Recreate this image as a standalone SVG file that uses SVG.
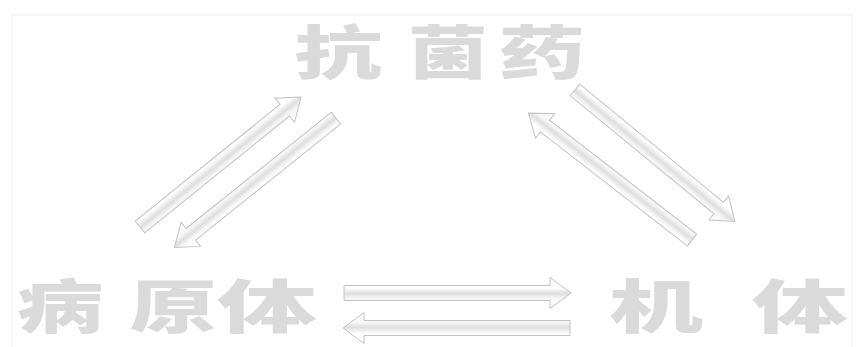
<svg xmlns="http://www.w3.org/2000/svg" width="856" height="347" viewBox="0 0 856 347">
<style>
.lbl{font-family:"Noto Sans CJK SC","Noto Sans CJK TC",sans-serif;font-weight:900;font-size:58px;fill:#dadada;text-anchor:middle}
.arr{fill:url(#shade);stroke:#c2c2c2;stroke-width:1;stroke-linejoin:miter}
</style>
<defs>
<linearGradient id="shade" x1="0" y1="0" x2="0" y2="1">
<stop offset="0" stop-color="#ffffff"/>
<stop offset="0.32" stop-color="#ffffff"/>
<stop offset="0.52" stop-color="#dedede"/>
<stop offset="0.66" stop-color="#f5f5f5"/>
<stop offset="1" stop-color="#ffffff"/>
</linearGradient>
<path id="a207" d="M0,-7.5 L186,-7.5 L186,-15.5 L207,0 L186,15.5 L186,7.5 L0,7.5 Z"/>
<path id="a227" d="M0,-7.5 L206,-7.5 L206,-15.5 L227,0 L206,15.5 L206,7.5 L0,7.5 Z"/>
</defs>
<rect x="0" y="0" width="856" height="347" fill="#ffffff"/>
<rect x="12" y="15" width="840" height="345" fill="none" stroke="#f3f3f3" stroke-width="1.5"/>
<g id="connectors">
<use href="#a207" class="arr" transform="translate(140,227) rotate(-38.9)"/>
<use href="#a207" class="arr" transform="translate(336,118) rotate(141.3)"/>
<use href="#a207" class="arr" transform="translate(575,90) rotate(39.4)"/>
<use href="#a207" class="arr" transform="translate(692,240) rotate(-142.2)"/>
<use href="#a227" class="arr" transform="translate(344,293)"/>
<use href="#a227" class="arr" transform="translate(570,328) rotate(180)"/>
</g>
<g id="node-antibiotic">
<text class="lbl" x="338" y="74" textLength="87" lengthAdjust="spacingAndGlyphs">抗</text>
<text class="lbl" x="448" y="74" textLength="80" lengthAdjust="spacingAndGlyphs">菌</text>
<text class="lbl" x="542" y="74" textLength="87" lengthAdjust="spacingAndGlyphs">药</text>
</g>
<g id="node-pathogen">
<text class="lbl" x="60" y="328" textLength="87" lengthAdjust="spacingAndGlyphs">病</text>
<text class="lbl" x="173" y="328" textLength="87" lengthAdjust="spacingAndGlyphs">原</text>
<text class="lbl" x="267" y="328" textLength="100" lengthAdjust="spacingAndGlyphs">体</text>
</g>
<g id="node-host">
<text class="lbl" x="656" y="328" textLength="94" lengthAdjust="spacingAndGlyphs">机</text>
<text class="lbl" x="800" y="328" textLength="96" lengthAdjust="spacingAndGlyphs">体</text>
</g>
</svg>
